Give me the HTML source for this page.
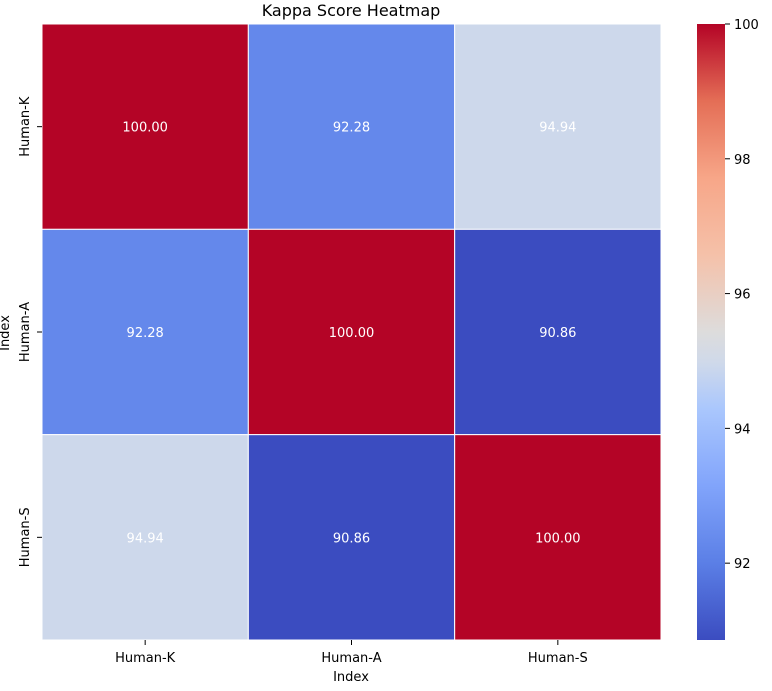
<!DOCTYPE html>
<html><head><meta charset="utf-8"><style>
body{margin:0;background:#fff;font-family:"DejaVu Sans","Liberation Sans",sans-serif;}
</style></head><body>
<svg id="c" width="772" height="687" xmlns="http://www.w3.org/2000/svg" font-family="DejaVu Sans, Liberation Sans, sans-serif">
<defs><linearGradient id="cb" x1="0" y1="1" x2="0" y2="0"></linearGradient></defs>
<text x="351" y="16" text-anchor="middle" font-size="16">Kappa Score Heatmap</text>
<text x="351" y="681" text-anchor="middle" font-size="13">Index</text>
<text transform="translate(9,333) rotate(-90)" text-anchor="middle" font-size="13">Index</text>
<g id="cells"></g><g id="axes"></g><g id="cbar"></g>
</svg>
<script>
const labels=["Human-K","Human-A","Human-S"];
const row0=[100.00,92.28,94.94];
const row1=[92.28,100.00,90.86];
const row2=[94.94,90.86,100.00];
const values=[row0,row1,row2];
const cbTicks=[92,94,96,98,100];
const vmin=90.86,vmax=100;
const X0=42,Y0=24,W=619,H=616;
const cw=W/labels.length,ch=H/labels.length;
const stops=[[0,"#3b4cc0"],[0.125,"#5b7fe6"],[0.25,"#81a4fb"],[0.375,"#aac7fd"],[0.45,"#cfd9ea"],[0.5,"#dddcdc"],[0.625,"#f5c1a9"],[0.75,"#f7a688"],[0.875,"#e46e56"],[1,"#b40426"]];
function hx(h){return [1,3,5].map(i=>parseInt(h.substr(i,2),16));}
function color(v){let t=(v-vmin)/(vmax-vmin);t=Math.max(0,Math.min(1,t));
for(let i=1;i<stops.length;i++){if(t<=stops[i][0]){const a=stops[i-1],b=stops[i];const f=(t-a[0])/(b[0]-a[0]);const ca=hx(a[1]),cb=hx(b[1]);return "rgb("+ca.map((x,k)=>Math.round(x+(cb[k]-x)*f)).join(",")+")";}}return stops[stops.length-1][1];}
const NS="http://www.w3.org/2000/svg";
function mk(tag,attrs,parent,txt){const e=document.createElementNS(NS,tag);for(const k in attrs)e.setAttribute(k,attrs[k]);if(txt!==undefined)e.textContent=txt;parent.appendChild(e);return e;}
const cells=document.getElementById('cells'),axes=document.getElementById('axes'),cbar=document.getElementById('cbar');
values.forEach((row,r)=>row.forEach((v,c)=>{
const rc=mk('rect',{x:X0+c*cw,y:Y0+r*ch,width:cw,height:ch,fill:color(v),stroke:"#fff","stroke-width":1},cells);


const t=mk('text',{x:X0+(c+.5)*cw,y:Y0+(r+.5)*ch+5,"text-anchor":"middle","font-size":13,fill:"#fff"},cells,v.toFixed(2));


}));
labels.forEach((l,i)=>{
const cx=X0+(i+.5)*cw;
mk('line',{x1:cx,x2:cx,y1:Y0+H,y2:Y0+H+5,stroke:"#000"},axes);
const t=mk('text',{x:cx,y:Y0+H+22,"text-anchor":"middle","font-size":13},axes,l);


const cy=Y0+(i+.5)*ch;
mk('line',{x1:X0-5,x2:X0,y1:cy,y2:cy,stroke:"#000"},axes);
const t2=mk('text',{transform:`translate(${X0-13},${cy}) rotate(-90)`,"text-anchor":"middle","font-size":13},axes,l);


});
const g=document.getElementById('cb');
stops.forEach(s=>mk('stop',{offset:s[0],"stop-color":s[1]},g));
const CX=697,CW=28;
const cr=mk('rect',{x:CX,y:Y0,width:CW,height:H,fill:"url(#cb)"},cbar);


function cy(v){return Y0+H-(v-vmin)/(vmax-vmin)*H;}
cbTicks.forEach(v=>{const y=cy(v);
mk('line',{x1:CX+CW,x2:CX+CW+5,y1:y,y2:y,stroke:"#000"},cbar);
const t=mk('text',{x:CX+CW+9,y:y+5,"font-size":13},cbar,String(v));


});
</script>
</body></html>
